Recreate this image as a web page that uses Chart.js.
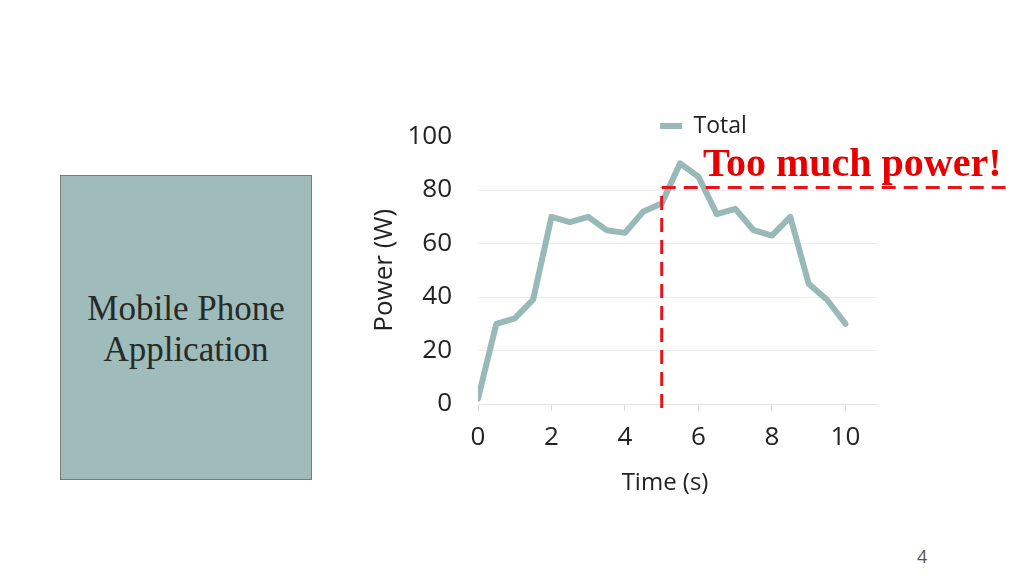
<!DOCTYPE html>
<html>
<head>
<meta charset="utf-8">
<script src="https://cdn.jsdelivr.net/npm/chart.js@4.4.0/dist/chart.umd.min.js"></script>
<style>
  html, body { margin: 0; padding: 0; background: #fff; }
  body { width: 1024px; height: 576px; position: relative; overflow: hidden; }
  .box {
    position: absolute; left: 60px; top: 175px; width: 250px; height: 303px;
    background: #9fbcbb; border: 1px solid #7b7d70;
  }
  .box-text {
    position: absolute; left: 0; right: 0; top: 112px; text-align: center;
    font-family: "Liberation Serif", serif; font-size: 35px; line-height: 41px; color: #262a28;
  }
  .warn {
    position: absolute; left: 703px; top: 143px; white-space: nowrap;
    font-family: "Liberation Serif", serif; font-weight: bold; font-size: 40px; line-height: 1;
    color: #e80000;
  }
  .page { position: absolute; left: 917px; top: 544px; font-family: "Open Sans", sans-serif; font-size: 18px; color: #555; }
  #wrap { position: absolute; left: 360px; top: 95px; width: 664px; height: 420px; }
</style>
</head>
<body>
<div class="box"><div class="box-text">Mobile Phone<br>Application</div></div>
<div id="wrap"><canvas id="myChart"></canvas></div>
<div class="warn">Too much power!</div>
<div class="page">4</div>
<script>
// time in seconds, power in watts
var times = [0, 0.5, 1, 1.5, 2, 2.5, 3, 3.5, 4, 4.5, 5, 5.5, 6, 6.5, 7, 7.5, 8, 8.5, 9, 9.5, 10];
var totalPower = [2, 30, 32, 39, 70, 68, 70, 65, 64, 72, 75, 90, 85, 71, 73, 65, 63, 70, 45, 39, 30];
var xTicks = [0, 2, 4, 6, 8, 10];
var yTicks = [0, 20, 40, 60, 80, 100];
// the red limit marker
var limitTime = 5;
var limitPower = 81;
var limitLineEnd = 14.36;

var font = "'Open Sans', sans-serif";

var limitLines = {
  id: "limitLines",
  afterDatasetsDraw: function (chart) {
    var ctx = chart.ctx;
    var xs = chart.scales.x, ys = chart.scales.y;
    var x0 = xs.getPixelForValue(limitTime);
    var yl = ys.getPixelForValue(limitPower);
    var x1 = xs.getPixelForValue(limitLineEnd);
    ctx.save();
    ctx.strokeStyle = "#e8141c";
    ctx.lineWidth = 3;
    ctx.setLineDash([14, 8]);
    ctx.beginPath();
    ctx.moveTo(x0, chart.chartArea.bottom + 4);
    ctx.lineTo(x0, yl);
    ctx.stroke();
    ctx.beginPath();
    ctx.moveTo(x0, yl);
    ctx.lineTo(x1, yl);
    ctx.stroke();
    ctx.restore();
  }
};

// nudge the legend over the peak like in the slide
var legendShift = {
  id: "legendShift",
  afterLayout: function (chart) {
    var lg = chart.legend;
    lg.left += 26;
    lg.right += 26;
    lg.top += 11;
    lg.bottom += 11;
  }
};

var ctx = document.getElementById("myChart").getContext("2d");
var myChart = new Chart(ctx, {
  type: "line",
  data: {
    labels: times,
    datasets: [
      {
        label: "Total",
        data: times.map(function (t, i) { return { x: t, y: totalPower[i] }; }),
        borderColor: "#98b9b8",
        backgroundColor: "#98b9b8",
        borderWidth: 6,
        borderJoinStyle: "round",
        borderCapStyle: "round",
        pointRadius: 0,
        tension: 0,
      },
    ],
  },
  options: {
    responsive: true,
    maintainAspectRatio: false,
    animation: false,
    layout: { padding: { left: 0, right: 147, top: 0, bottom: 0 } },
    plugins: {
      tooltip: { enabled: false },
      legend: {
        position: "top",
        fullSize: false,
        labels: {
          padding: 0,
          usePointStyle: true,
          pointStyle: "line",
          pointStyleWidth: 22,
          boxHeight: 22,
          color: "#222",
          font: { family: font, size: 23 },
        },
      },
    },
    scales: {
      x: {
        type: "linear",
        min: 0,
        max: 10.86,
        afterBuildTicks: function (s) { s.ticks = xTicks.map(function (v) { return { value: v }; }); },
        afterFit: function (s) { s.height = 111; },
        grid: { drawOnChartArea: false, drawTicks: true, tickLength: 7, color: "#dcdcdc" },
        border: { display: true, color: "#e4e4e4", width: 1 },
        ticks: { color: "#222", padding: 11, font: { family: font, size: 26 } },
        title: {
          display: true, text: "Time (s)\u00A0\u00A0\u00A0\u00A0", color: "#222",
          font: { family: font, size: 24 }, padding: { top: 0, bottom: 17 },
        },
      },
      y: {
        min: 0,
        max: 100,
        afterBuildTicks: function (s) { s.ticks = yTicks.map(function (v) { return { value: v }; }); },
        afterFit: function (s) { s.width = 118; },
        grid: {
          drawTicks: false,
          color: function (c) { return c.tick && c.tick.value === 100 ? "rgba(0,0,0,0)" : "#ececec"; },
        },
        border: { display: false },
        ticks: { color: "#222", padding: 26, font: { family: font, size: 26 } },
        title: {
          display: true, text: "Power (W)", color: "#222",
          font: { family: font, size: 26 }, padding: { top: 9, bottom: 0 },
        },
      },
    },
  },
  plugins: [limitLines, legendShift],
});
</script>
</body>
</html>
